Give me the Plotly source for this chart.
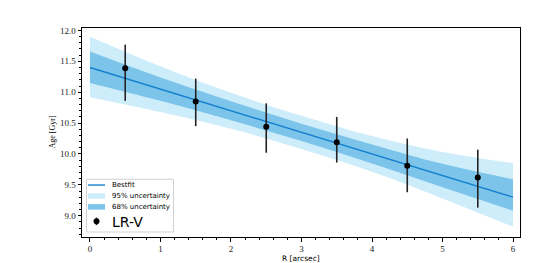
import plotly.graph_objects as go

# --- data ---
R_obs = [0.5, 1.5, 2.5, 3.5, 4.5, 5.5]
age_obs = [11.39, 10.85, 10.44, 10.19, 9.81, 9.62]
err_plus = [0.38, 0.37, 0.38, 0.41, 0.44, 0.45]
err_minus = [0.53, 0.40, 0.42, 0.33, 0.43, 0.49]

R_fit = [0, 1, 2, 3, 4, 5, 6]
bestfit = [11.40, 11.05, 10.70, 10.35, 10.00, 9.65, 9.30]
lo68 = [11.15, 10.86, 10.545, 10.21, 9.845, 9.46, 9.08]
hi68 = [11.66, 11.24, 10.855, 10.49, 10.155, 9.84, 9.59]
lo95 = [10.92, 10.68, 10.41, 10.08, 9.71, 9.28, 8.82]
hi95 = [11.90, 11.42, 10.99, 10.62, 10.29, 10.03, 9.85]

x_ticks = [0, 1, 2, 3, 4, 5, 6]
y_ticks = [9.0, 9.5, 10.0, 10.5, 11.0, 11.5, 12.0]

C_LINE = "#1580d0"
C_68 = "#7cc4ea"
C_95 = "#cdedfb"
SERIF = "Liberation Serif"

# page body has an 8px default margin -> draw a 540x255 figure offset by 8px
OFF = 8
FW, FH = 548 - OFF, 263 - OFF

fig = go.Figure()
fig.add_trace(go.Scatter(x=R_fit, y=lo95, mode="lines", line=dict(width=0, shape="spline"),
                         showlegend=False, hoverinfo="skip"))
fig.add_trace(go.Scatter(x=R_fit, y=hi95, mode="lines", line=dict(width=0, shape="spline"),
                         fill="tonexty", fillcolor=C_95, name="95% uncertainty", showlegend=False))
fig.add_trace(go.Scatter(x=R_fit, y=lo68, mode="lines", line=dict(width=0, shape="spline"),
                         showlegend=False, hoverinfo="skip"))
fig.add_trace(go.Scatter(x=R_fit, y=hi68, mode="lines", line=dict(width=0, shape="spline"),
                         fill="tonexty", fillcolor=C_68, name="68% uncertainty", showlegend=False))
fig.add_trace(go.Scatter(x=R_fit, y=bestfit, mode="lines", line=dict(color=C_LINE, width=1.4),
                         name="Bestfit", showlegend=False))
fig.add_trace(go.Scatter(x=R_obs, y=age_obs, mode="markers", name="LR-V", showlegend=False,
                         marker=dict(color="black", size=6),
                         error_y=dict(type="data", symmetric=False, array=err_plus,
                                      arrayminus=err_minus, color="#222222", thickness=1.6, width=0)))

# plot-area geometry in target (window) px
L, Rt, T, B = 82, 520, 27.5, 237.5
W, H = Rt - L, B - T
fx = lambda px: (px - L) / W
fy = lambda py: (B - py) / H

shapes = []
shapes.append(dict(type="rect", xref="paper", yref="paper",
                   x0=fx(86.5), x1=fx(173.5), y0=fy(232.5), y1=fy(179.5),
                   line=dict(color="#d0d0d0", width=1), fillcolor="rgba(255,255,255,0.85)"))
shapes.append(dict(type="line", xref="paper", yref="paper",
                   x0=fx(88), x1=fx(105), y0=fy(185.3), y1=fy(185.3),
                   line=dict(color=C_LINE, width=1.4)))
shapes.append(dict(type="rect", xref="paper", yref="paper",
                   x0=fx(88), x1=fx(105), y0=fy(199), y1=fy(193.5),
                   line=dict(width=0), fillcolor=C_95))
shapes.append(dict(type="rect", xref="paper", yref="paper",
                   x0=fx(88), x1=fx(105), y0=fy(210), y1=fy(204.5),
                   line=dict(width=0), fillcolor=C_68))
shapes.append(dict(type="line", xref="paper", yref="paper",
                   x0=fx(96.5), x1=fx(96.5), y0=fy(225.5), y1=fy(218),
                   line=dict(color="#222222", width=1.6)))
shapes.append(dict(type="circle", xref="paper", yref="paper",
                   x0=fx(93.5), x1=fx(99.5), y0=fy(224.7), y1=fy(218.7),
                   line=dict(width=0), fillcolor="black"))

annotations = []
for label, py in [("Bestfit", 185.3), ("95% uncertainty", 196.3), ("68% uncertainty", 207.3)]:
    annotations.append(dict(text=label, xref="paper", yref="paper", x=fx(110), y=fy(py),
                            xanchor="left", yanchor="middle", showarrow=False,
                            font=dict(family="DejaVu Sans", size=7, color="black")))
annotations.append(dict(text="LR-V", xref="paper", yref="paper", x=fx(109.5), y=fy(222),
                        xanchor="left", yanchor="middle", showarrow=False,
                        font=dict(family="DejaVu Sans", size=14, color="black")))
annotations.append(dict(text="Age [Gyr]", xref="paper", yref="paper", x=fx(52), y=0.5,
                        xanchor="center", yanchor="middle", textangle=-90, showarrow=False,
                        font=dict(family=SERIF, size=8, color="black")))
annotations.append(dict(text="R [arcsec]", xref="paper", yref="paper", x=0.5, y=fy(258.8),
                        xanchor="center", yanchor="middle", showarrow=False,
                        font=dict(family="DejaVu Sans", size=7.5, color="black")))

axis_common = dict(showline=True, mirror=True, linecolor="black", linewidth=1,
                   ticks="outside", ticklen=3.5, tickwidth=0.8, tickcolor="black",
                   showgrid=False, zeroline=False, automargin=False,
                   tickfont=dict(family=SERIF, size=9, color="#222222"))

fig.update_layout(
    width=FW, height=FH, autosize=False,
    margin=dict(l=L - OFF, r=548 - Rt, t=T - OFF, b=263 - B, pad=0),
    paper_bgcolor="white", plot_bgcolor="white",
    shapes=shapes, annotations=annotations, showlegend=False,
    xaxis=dict(range=[-0.113, 6.099], tickvals=x_ticks, ticktext=[str(v) for v in x_ticks],
               minor=dict(dtick=0.2, tick0=0, ticks="outside", ticklen=2, tickwidth=0.7,
                          tickcolor="black"),
               **axis_common),
    yaxis=dict(range=[8.655, 12.04], tickvals=y_ticks, ticktext=[f"{v:.1f}" for v in y_ticks],
               minor=dict(dtick=0.1, tick0=0, ticks="outside", ticklen=2, tickwidth=0.7,
                          tickcolor="black"),
               **axis_common),
)

fig.write_html("out.html")
